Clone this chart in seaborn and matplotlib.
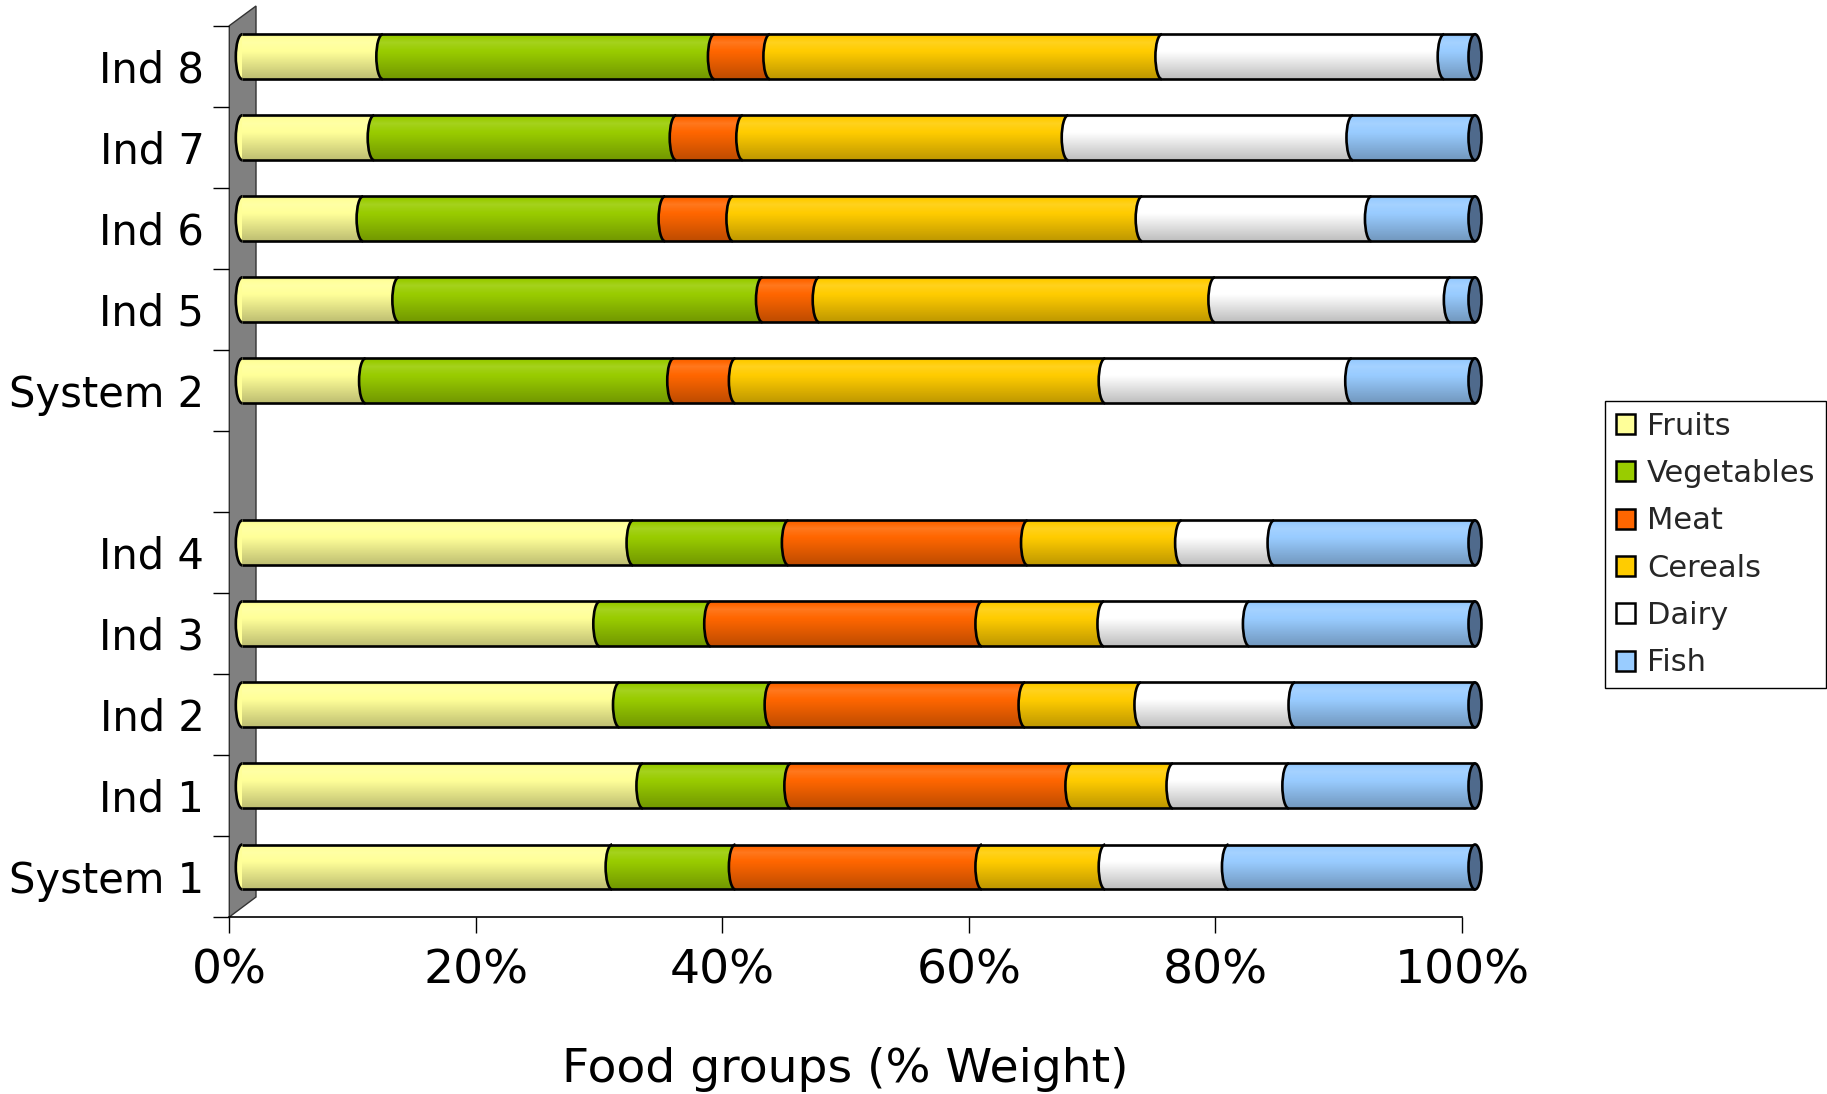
import numpy as np
import pandas as pd
import matplotlib
matplotlib.use("Agg")
import matplotlib.pyplot as plt
import seaborn as sns
from matplotlib.patches import Ellipse, Arc, PathPatch, Patch, Polygon
from matplotlib.path import Path

# ---- data (percent of weight per food group) ----
units = ["System 1", "Ind 1", "Ind 2", "Ind 3", "Ind 4",
         "System 2", "Ind 5", "Ind 6", "Ind 7", "Ind 8"]
groups = ["Fruits", "Vegetables", "Meat", "Cereals", "Dairy", "Fish"]
fruits = [30.0, 32.5, 30.6, 29.0, 31.7, 10.0, 12.7, 9.8, 10.7, 11.4]
vegetables = [10.0, 12.0, 12.3, 9.0, 12.6, 25.0, 29.5, 24.5, 24.5, 26.9]
meat = [20.0, 22.8, 20.6, 22.0, 19.4, 5.0, 4.6, 5.5, 5.4, 4.5]
cereals = [10.0, 8.2, 9.4, 9.9, 12.5, 30.0, 32.1, 33.2, 26.4, 31.8]
dairy = [10.0, 9.4, 12.5, 11.8, 7.5, 20.0, 19.1, 18.6, 23.1, 22.9]
fish = [20.0, 15.1, 14.6, 18.3, 16.3, 10.0, 2.0, 8.4, 9.9, 2.5]
x_ticks = [0, 20, 40, 60, 80, 100]

colors = ["#FFFF99", "#99CC00", "#FF6600", "#FFCC00", "#FFFFFF", "#99CCFF"]
cap_color = "#4F6A8C"

series = dict(zip(groups, [fruits, vegetables, meat, cereals, dairy, fish]))

# one empty slot separates the two systems
pos = [i if i < 5 else i + 1 for i in range(len(units))]
n_slots = max(pos) + 1

rows = []
for g in groups:
    for i, u in enumerate(units):
        rows.append({"unit": u, "pos": pos[i], "group": g, "value": series[g][i]})
df = pd.DataFrame(rows)
df["end"] = df.groupby("unit")["value"].cumsum()
df["start"] = df["end"] - df["value"]

# ---- style ----
sns.set_theme(style="white")
plt.rcParams["font.family"] = ["DejaVu Sans"]

W, H = 1827, 1094
fig = plt.figure(figsize=(W / 100, H / 100), dpi=100)
fig.patch.set_facecolor("white")


def rect_px(left, top, right, bottom):
    return [left / W, 1 - bottom / H, (right - left) / W, (bottom - top) / H]


# frame axes (ticks, wall, axis line) and a slightly shifted axes for the 3-D bars
ax = fig.add_axes(rect_px(229.3, 25.7, 1462, 917))
bax = fig.add_axes(rect_px(242.3, 16.2, 1475, 907.5))

bar_w = 0.555
hh = bar_w / 2
a = 6.5 / ((1475 - 242.3) / 100)  # half-width of the end ellipses, data units

# flat stacked fills: widest cumulative layer first, each later layer covers it
for k in reversed(range(len(groups))):
    sub = df[df["group"] == groups[k]]
    sns.barplot(data=sub, x="end", y="pos", orient="h", native_scale=True,
                color=colors[k], saturation=1, width=bar_w, errorbar=None,
                linewidth=0, zorder=1, ax=bax)

# vertical shading profile of a cylinder (positive = lighten, negative = darken)
t = np.linspace(0, 1, 96)
s = np.interp(t, [0.0, 0.18, 0.38, 1.0], [-0.08, 0.12, 0.0, -0.26])
shade = np.zeros((len(t), 2, 4))
shade[..., :3] = np.where(s[:, None, None] > 0, 1.0, 0.0)
shade[..., 3] = np.abs(s)[:, None]

for i, u in enumerate(units):
    yc = pos[i]
    seg = df[df["unit"] == u]
    starts = seg["start"].to_numpy()
    total = seg["end"].to_numpy()[-1]

    # rounded start of every segment
    for k, x0 in enumerate(starts):
        bax.add_patch(Ellipse((x0, yc), 2 * a, 2 * hh, facecolor=colors[k],
                              edgecolor="none", zorder=2, clip_on=False))

    # cylinder outline for the shading overlay
    th1 = np.linspace(np.pi / 2, 3 * np.pi / 2, 40)
    th2 = np.linspace(-np.pi / 2, np.pi / 2, 40)
    verts = np.vstack([
        np.column_stack([a * np.cos(th1), yc + hh * np.sin(th1)]),
        np.column_stack([total + a * np.cos(th2), yc + hh * np.sin(th2)]),
        [[0, yc + hh]],
    ])
    codes = [Path.MOVETO] + [Path.LINETO] * (len(verts) - 2) + [Path.CLOSEPOLY]
    outline = PathPatch(Path(verts, codes), transform=bax.transData)
    bax.imshow(shade, extent=[-a, total + a, yc - hh, yc + hh], aspect="auto",
               interpolation="bilinear", origin="upper", zorder=3,
               clip_path=outline)

    # black contour lines
    bax.plot([0, total], [yc + hh, yc + hh], color="black", lw=1.9, zorder=4,
             solid_capstyle="butt", clip_on=False)
    bax.plot([0, total], [yc - hh, yc - hh], color="black", lw=1.9, zorder=4,
             solid_capstyle="butt", clip_on=False)
    for x0 in starts:
        bax.add_patch(Arc((x0, yc), 2 * a, 2 * hh, theta1=90, theta2=270,
                          color="black", lw=1.9, zorder=4, clip_on=False))
    bax.add_patch(Ellipse((total, yc), 2 * a, 2 * hh, facecolor=cap_color,
                          edgecolor="black", lw=1.9, zorder=5, clip_on=False))

bax.set_xlim(0, 100)
bax.set_ylim(-0.5, n_slots - 0.5)
bax.axis("off")
bax.patch.set_alpha(0)

# ---- frame axes ----
ax.set_xlim(0, 100)
ax.set_ylim(-0.5, n_slots - 0.5)
ax.set_facecolor("white")
for side in ["top", "right", "left"]:
    ax.spines[side].set_visible(False)
ax.spines["bottom"].set_color("black")
ax.spines["bottom"].set_linewidth(1.2)

ax.set_xticks(x_ticks, [f"{v}%" for v in x_ticks])
ax.tick_params(axis="x", which="major", direction="out", length=11.5, width=1.0,
               color="black", labelsize=34, pad=11, labelcolor="black", bottom=True)
ax.set_yticks(pos, units)
ax.set_yticks(np.arange(-0.5, n_slots, 1), minor=True)
ax.tick_params(axis="y", which="major", length=0, pad=18, labelsize=30,
               labelcolor="black", left=True)
ax.tick_params(axis="y", which="minor", direction="out", length=11.5, width=1.0,
               color="black", left=True)
ax.grid(False)

ax.set_xlabel("Food groups (% Weight)", fontsize=34, color="black", va="baseline")
ax.xaxis.set_label_coords(0.5, -0.1848)
ax.set_ylabel("")

# side wall of the 3-D plot area
x_l, x_r = 229.3, 256.0
wall = Polygon([(x_l / W, 1 - 917 / H), (x_l / W, 1 - 25.7 / H),
                (x_r / W, 1 - 6.0 / H), (x_r / W, 1 - 897 / H)],
               closed=True, facecolor="#808080", edgecolor="#333333", lw=1.0,
               transform=fig.transFigure, clip_on=False, zorder=0.5)
ax.add_patch(wall)

# ---- legend ----
handles = [Patch(facecolor=c, edgecolor="black", linewidth=1.8) for c in colors]
leg = fig.legend(handles, groups, loc="upper left",
                 bbox_to_anchor=(1605 / W, 1 - 401 / H), borderaxespad=0,
                 fontsize=22, frameon=True, fancybox=False, edgecolor="black",
                 framealpha=1, handlelength=0.62, handleheight=0.62,
                 handletextpad=0.4, labelspacing=0.6, borderpad=0.35)
leg.get_frame().set_linewidth(1.0)

fig.savefig("out.png", dpi=100, facecolor="white")
